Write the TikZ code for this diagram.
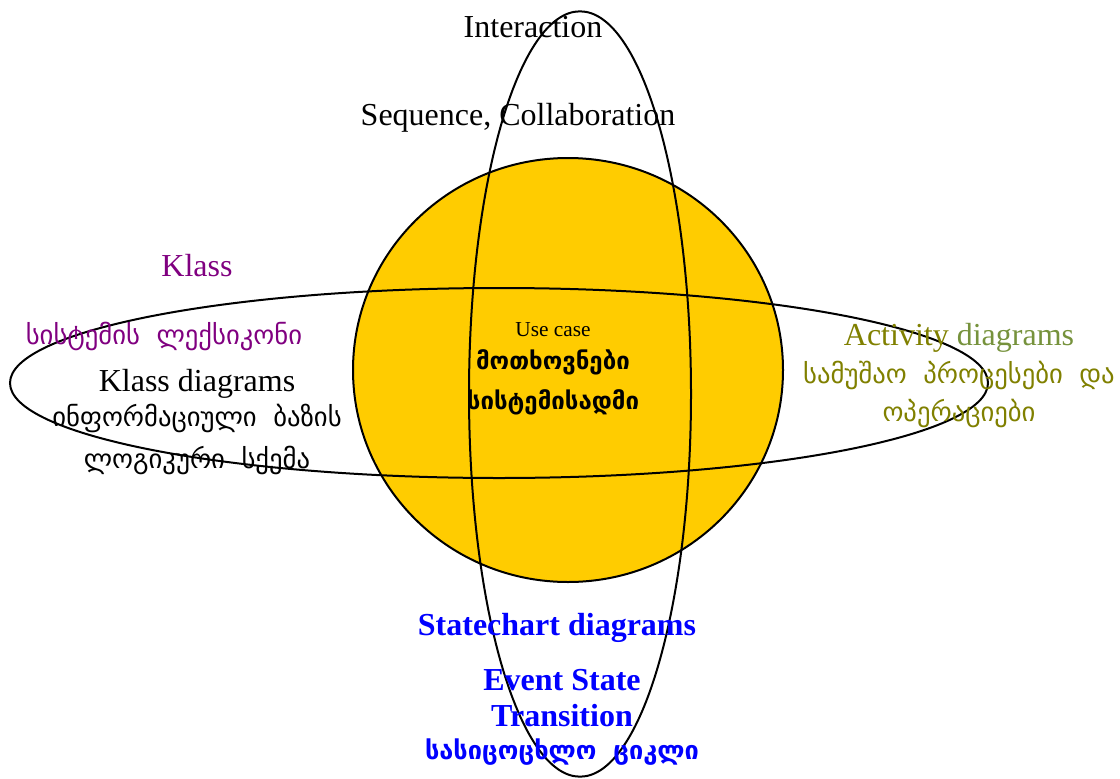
\documentclass[tikz,border=0pt]{standalone}
\usepackage{fontspec}
\setmainfont{Liberation Serif}
\newfontfamily\geo{DejaVu Sans}
\definecolor{sunfill}{RGB}{255,204,0}
\definecolor{klasspurple}{RGB}{128,0,128}
\definecolor{actolive}{RGB}{128,128,0}
\definecolor{actgreen}{RGB}{118,146,60}
\definecolor{stateblue}{RGB}{0,0,255}
\newcommand{\gap}{\hspace{6pt} }
\tikzset{
  outline/.style={line width=1.5pt, draw=black},
  lbl/.style={inner sep=0pt, anchor=center, font=\fontsize{24}{28}\selectfont},
  geolbl/.style={inner sep=0pt, anchor=center, font=\geo\fontsize{20}{24}\selectfont},
  geobold/.style={inner sep=0pt, anchor=center, font=\geo\bfseries\fontsize{18}{22}\selectfont},
  statelbl/.style={lbl, font=\bfseries\fontsize{24}{28}\selectfont, text=stateblue},
}
\begin{document}
\begin{tikzpicture}[x=0.75pt,y=-0.75pt]
\useasboundingbox (0,0) rectangle (1120,778);
% central use-case disc
\draw[outline, fill=sunfill] (568,370) ellipse [x radius=161.25pt, y radius=159pt];
% horizontal orbit (class view)
\draw[outline] (499,383) ellipse [x radius=366.75pt, y radius=71.25pt];
% vertical orbit (interaction / state view)
\draw[outline] (580,394) ellipse [x radius=83.25pt, y radius=287pt];

% top labels
\node[lbl] (inter) at (533,27) {Interaction};
\node[lbl] (seq) at (518,118) {Sequence, Collaboration};

% left labels
\node[lbl, text=klasspurple] (klass) at (197,266) {Klass};
\node[geolbl, text=klasspurple] (lex) at (164,336) {სისტემის\gap ლექსიკონი};
\node[lbl] (kdiag) at (197,384) {Klass diagrams};
\node[geolbl] (info1) at (197,418) {ინფორმაციული\gap ბაზის};
\node[geolbl] (info2) at (197,460) {ლოგიკური\gap სქემა};

% centre labels
\node[inner sep=0pt, font=\fontsize{16}{19}\selectfont] (uc) at (553,330) {Use case};
\node[geobold] (req1) at (553,362) {მოთხოვნები};
\node[geobold] (req2) at (553,402) {სისტემისადმი};

% right labels
\node[lbl] (act) at (959,338) {\textcolor{actolive}{Activity} \textcolor{actgreen}{diagrams}};
\node[geolbl, text=actolive] (work1) at (959,375) {სამუშაო\gap პროცესები\gap და};
\node[geolbl, text=actolive] (work2) at (959,413) {ოპერაციები};

% bottom labels
\node[statelbl] (state) at (557,628) {Statechart diagrams};
\node[statelbl] (evt1) at (562,680) {Event State};
\node[statelbl] (evt2) at (562,716) {Transition};
\node[geobold, font=\geo\bfseries\fontsize{19}{23}\selectfont, text=stateblue] (life) at (562,752) {სასიცოცხლო\gap ციკლი};
\end{tikzpicture}
\end{document}
